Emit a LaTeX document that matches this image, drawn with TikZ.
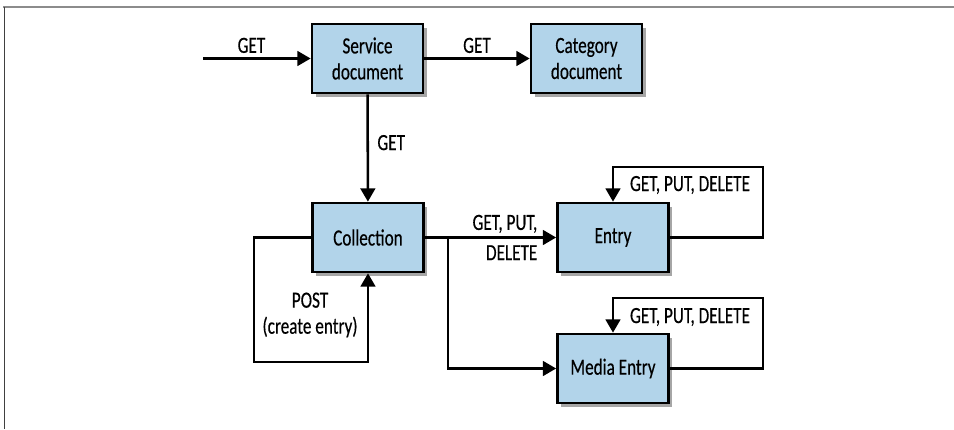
\documentclass[tikz,border=0pt]{standalone}
\usepackage{fontspec}
\setmainfont{Carlito}[FakeStretch=0.74, FakeBold=0.4]
\usepackage{tikz}
\usetikzlibrary{arrows.meta,positioning,shadows}

\definecolor{boxblue}{RGB}{178,212,234}
\definecolor{framegray}{RGB}{140,140,140}

\begin{document}
\begin{tikzpicture}[x=0.025cm, y=-0.025cm,
		font=\fontsize{16.5}{18.5}\selectfont,
		resource/.style={draw, line width=1.9pt, fill=boxblue, align=center,
			minimum width=2.775cm, minimum height=1.725cm, inner sep=2pt,
			drop shadow={shadow xshift=2.5pt, shadow yshift=-2.5pt, fill=black, opacity=0.35}},
		arr/.style={line width=1.8pt, -{Triangle[length=9.5pt, width=10.5pt]}},
		lbl/.style={inner sep=1pt, align=center}]
	\useasboundingbox (0,0) rectangle (954,429);
	
	% Frame
	\draw[framegray, line width=1.5pt] (3,7) -- (954,7);
	\draw[black!75, line width=0.6pt] (4,7) -- (4,429);
	
	% Resources
	\node[resource] (svc) at (367.5,58.5) {Service\\document};
	\node[resource] (cat) at (586.5,58.5) {Category\\document};
	\node[resource] (coll) at (368,237.5) {Collection};
	\node[resource] (entry) at (613,237.5) {Entry};
	\node[resource] (media) at (613,368.5) {Media Entry};
	
	% Entry point
	\coordinate (start) at (203,58.5);
	\draw[arr] (start) -- node[lbl, above=2pt, pos=0.45] {GET} (svc);
	
	\draw[arr] (svc) -- node[lbl, above=2pt] {GET} (cat);
	\draw[arr] (svc) -- node[lbl, right=5pt, pos=0.45] {GET} (coll);
	
	% Collection to entries
	\draw[arr] (coll) -- node[lbl, pos=0.61, align=right] {GET, PUT,\\[3pt]DELETE} (entry);
	\coordinate (branch) at (448,237.5);
	\draw[arr] (branch) |- (media);
	
	% POST loop
	\coordinate (postcorner) at (254,362);
	\draw[arr] (coll.west) -| (postcorner) -| (coll.south);
	\node[lbl] (postlbl) at (310,315) {POST\\(create entry)};
	
	% Self loops
	\coordinate (entrycorner) at (763,167);
	\draw[arr] (entry.east) -| (entrycorner) -| (entry.north);
	\node[lbl] (entrylbl) at (690,185) {GET, PUT, DELETE};
	
	\coordinate (mediacorner) at (763,298);
	\draw[arr] (media.east) -| (mediacorner) -| (media.north);
	\node[lbl] (medialbl) at (690,317) {GET, PUT, DELETE};
\end{tikzpicture}
\end{document}
